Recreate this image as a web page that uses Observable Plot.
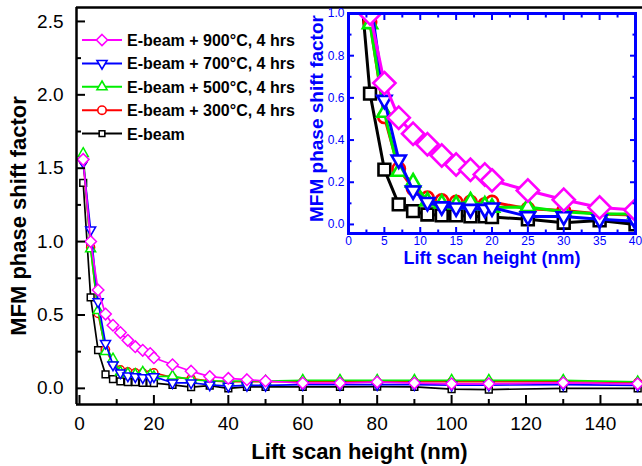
<!DOCTYPE html>
<html><head><meta charset="utf-8">
<script src="https://cdn.jsdelivr.net/npm/d3@7"></script>
<script src="https://cdn.jsdelivr.net/npm/@observablehq/plot@0.6"></script>
<style>
body{margin:0;background:#fff;}
#wrap{position:relative;width:642px;height:466px;overflow:hidden;font-family:"Liberation Sans",Arial,sans-serif;background:#fff;}
#wrap svg{position:absolute;overflow:visible;}
</style></head><body><div id="wrap"></div>
<script>
// ---- data ----
const heights = [1,3,5,7,9,11,13,15,17,19,20,25,30,35,40,45,50,60,70,80,90,100,110,130,150];
const eBeam  = [1.40,0.62,0.26,0.095,0.063,0.047,0.043,0.043,0.038,0.038,0.035,0.024,0.008,0.019,0.0,0.01,0.01,0.01,0.01,0.012,0.01,-0.005,-0.008,0.0,0.0];
const t300   = [1.55,0.96,0.51,0.264,0.17,0.126,0.113,0.106,0.106,0.095,0.106,0.074,0.066,0.05,0.045,0.045,0.045,0.045,0.045,0.045,0.045,0.045,0.045,0.045,0.04];
const t500   = [1.60,0.95,0.53,0.25,0.20,0.11,0.10,0.095,0.11,0.09,0.08,0.083,0.06,0.05,0.05,0.05,0.05,0.055,0.055,0.055,0.055,0.055,0.055,0.055,0.045];
const t700   = [1.54,1.08,0.59,0.307,0.16,0.106,0.085,0.08,0.073,0.073,0.08,0.038,0.038,0.024,0.015,0.02,0.02,0.025,0.025,0.025,0.025,0.022,0.022,0.025,0.02];
const t900   = [1.56,1.00,0.67,0.506,0.43,0.38,0.327,0.284,0.259,0.237,0.209,0.161,0.117,0.08,0.068,0.059,0.05,0.036,0.036,0.043,0.036,0.031,0.031,0.038,0.031];
const seriesNames  = ["E-beam","E-beam + 300°C, 4 hrs","E-beam + 500°C, 4 hrs","E-beam + 700°C, 4 hrs","E-beam + 900°C, 4 hrs"];
const seriesValues = [eBeam, t300, t500, t700, t900];
const seriesColors = ["#000000","#ff0000","#00ee00","#0000ff","#ff00ff"];
const legendOrder  = [4,3,2,1,0];
const xTicksMain  = [0,20,40,60,80,100,120,140];
const xMinorMain  = [10,30,50,70,90,110,130,150];
const yTicksMain  = [0,0.5,1.0,1.5,2.0,2.5];
const yMinorMain  = [0.25,0.75,1.25,1.75,2.25];
const xTicksInset = [0,5,10,15,20,25,30,35,40];
const xMinorInset = [2.5,7.5,12.5,17.5,22.5,27.5,32.5,37.5];
const yTicksInset = [0,0.2,0.4,0.6,0.8,1.0];
const yMinorInset = [0.1,0.3,0.5,0.7,0.9];
const xDomainMain = [-0.8,151.3], yDomainMain = [-0.11,2.595];
const xDomainInset = [0,40], yDomainInset = [-0.043,1.0];
const xTitle = "Lift scan height (nm)", yTitle = "MFM phase shift factor";

// ---- symbols ----
const triDown = {draw(ctx, size){const s=Math.sqrt(size)*0.6824,t=s/2,u=s*Math.sqrt(3)/2;ctx.moveTo(0,s);ctx.lineTo(-u,-t);ctx.lineTo(u,-t);ctx.closePath();}};
const symbols = [d3.symbolSquare2, d3.symbolCircle, d3.symbolTriangle2, triDown, d3.symbolDiamond2];
const rMain  = [4.3,4,4.8,4.8,5.2];
const rInset = [7.5,6.2,6.8,6.8,10];

const rows = seriesValues.map(vals => vals.map((v,j)=>({x:heights[j], y:v})));
const font = '"Liberation Sans",Arial,sans-serif';
const wrap = document.getElementById("wrap");

// ---- main plot ----
const mainMarks = [];
rows.forEach((d,i)=>{
  mainMarks.push(Plot.line(d,{x:"x",y:"y",stroke:seriesColors[i],strokeWidth:1.7}));
  mainMarks.push(Plot.dot(d,{x:"x",y:"y",symbol:symbols[i],r:rMain[i],stroke:seriesColors[i],fill:"white",strokeWidth:1.5}));
});
const main = Plot.plot({
  width:642, height:466, marginLeft:76, marginRight:0, marginTop:7, marginBottom:62,
  x:{domain:xDomainMain}, y:{domain:yDomainMain},
  style:{fontFamily:font, background:"transparent", overflow:"visible"},
  marks:[
    ...mainMarks,
    Plot.ruleX([xDomainMain[0]],{stroke:"black",strokeWidth:2.5}),
    Plot.ruleY([yDomainMain[0]],{stroke:"black",strokeWidth:2.5}),
    Plot.ruleY([yDomainMain[1]],{stroke:"black",strokeWidth:2.5}),
    Plot.axisX(xTicksMain,{anchor:"bottom",tickSize:-9,tickPadding:21,fontSize:19,strokeWidth:2,color:"black",tickFormat:d=>String(d),label:null}),
    Plot.axisX(xMinorMain,{anchor:"bottom",tickSize:-5,strokeWidth:2,color:"black",tickFormat:()=>"",label:null}),
    Plot.axisY(yTicksMain,{anchor:"left",tickSize:-9,tickPadding:22,fontSize:19,strokeWidth:2,color:"black",tickFormat:d3.format(".1f"),label:null}),
    Plot.axisY(yMinorMain,{anchor:"left",tickSize:-5,strokeWidth:2,color:"black",tickFormat:()=>"",label:null}),
    Plot.text([xTitle],{frameAnchor:"bottom",dy:47,text:d=>d,textAnchor:"middle",lineAnchor:"middle",fontSize:22,fontWeight:"bold",fill:"black"}),
    Plot.text([yTitle],{frameAnchor:"left",dx:-58,dy:10,rotate:-90,text:d=>d,textAnchor:"middle",lineAnchor:"middle",fontSize:22,fontWeight:"bold",fill:"black"})
  ]
});
main.style.left="0px"; main.style.top="0px";
wrap.appendChild(main);

// ---- inset ----
const insetMarks = [];
rows.forEach((d,i)=>{
  insetMarks.push(Plot.line(d,{x:"x",y:"y",stroke:seriesColors[i],strokeWidth:3,clip:true}));
  insetMarks.push(Plot.dot(d,{x:"x",y:"y",symbol:symbols[i],r:rInset[i],stroke:seriesColors[i],fill:"white",strokeWidth:2.6,clip:true}));
});
const blue = "#0000ff";
const inset = Plot.plot({
  width:342, height:270, marginLeft:48, marginRight:7, marginTop:13, marginBottom:37,
  x:{domain:xDomainInset}, y:{domain:yDomainInset},
  style:{fontFamily:font, background:"transparent", overflow:"visible"},
  marks:[
    ...insetMarks,
    Plot.frame({stroke:blue,strokeWidth:3}),
    Plot.axisX(xTicksInset,{anchor:"bottom",tickSize:-6,tickPadding:9,fontSize:12,strokeWidth:2,color:blue,tickFormat:d=>String(d),label:null}),
    Plot.axisX(xMinorInset,{anchor:"bottom",tickSize:-3.5,strokeWidth:2,color:blue,tickFormat:()=>"",label:null}),
    Plot.axisX(xTicksInset,{anchor:"top",tickSize:-6,strokeWidth:2,color:blue,tickFormat:()=>"",label:null}),
    Plot.axisX(xMinorInset,{anchor:"top",tickSize:-3.5,strokeWidth:2,color:blue,tickFormat:()=>"",label:null}),
    Plot.axisY(yTicksInset,{anchor:"left",tickSize:-6,tickPadding:10,fontSize:12,strokeWidth:2,color:blue,tickFormat:d3.format(".1f"),label:null}),
    Plot.axisY(yMinorInset,{anchor:"left",tickSize:-3.5,strokeWidth:2,color:blue,tickFormat:()=>"",label:null}),
    Plot.axisY(yTicksInset,{anchor:"right",tickSize:-6,strokeWidth:2,color:blue,tickFormat:()=>"",label:null}),
    Plot.axisY(yMinorInset,{anchor:"right",tickSize:-3.5,strokeWidth:2,color:blue,tickFormat:()=>"",label:null}),
    Plot.text([xTitle],{frameAnchor:"bottom",dy:25,text:d=>d,textAnchor:"middle",lineAnchor:"middle",fontSize:18,fontWeight:"bold",fill:blue}),
    Plot.text([yTitle],{frameAnchor:"left",dx:-32,dy:-5,rotate:-90,text:d=>d,textAnchor:"middle",lineAnchor:"middle",fontSize:19,fontWeight:"bold",fill:blue})
  ]
});
inset.style.left="300px"; inset.style.top="0px";
wrap.appendChild(inset);

// ---- legend ----
const leg = d3.create("svg").attr("width",320).attr("height",150).style("left","0px").style("top","0px");
const legR = [3.6,4.2,4.8,4.8,5];
legendOrder.forEach((si,k)=>{
  const y = 40 + k*23.4;
  const g = leg.append("g");
  g.append("line").attr("x1",82).attr("x2",122).attr("y1",y).attr("y2",y).attr("stroke",seriesColors[si]).attr("stroke-width",2);
  g.append("path").attr("transform",`translate(102,${y})`).attr("d",d3.symbol(symbols[si], Math.PI*legR[si]*legR[si])())
    .attr("fill","white").attr("stroke",seriesColors[si]).attr("stroke-width",1.6);
  g.append("text").attr("x",127).attr("y",y+6).attr("font-family",font).attr("font-size",16).attr("font-weight","bold").attr("fill","black").text(seriesNames[si]);
});
wrap.appendChild(leg.node());
</script></body></html>
